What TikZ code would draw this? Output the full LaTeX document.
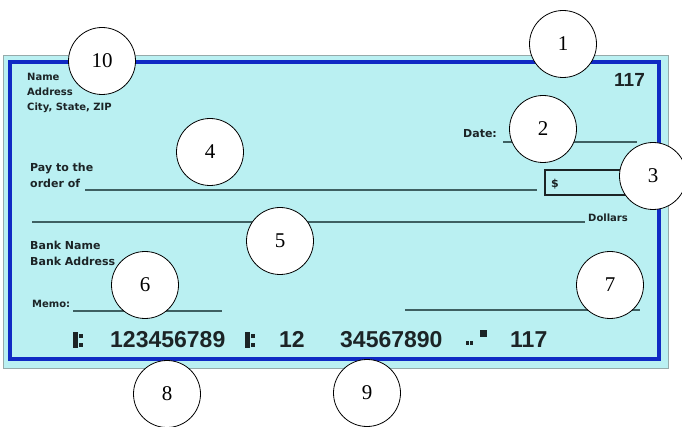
\documentclass[tikz,border=0pt]{standalone}
\usepackage{fontspec}
\setmainfont{Liberation Serif}
\newfontfamily\chkfont{DejaVu Sans}
\newfontfamily\micrfont{Liberation Sans}
\usetikzlibrary{positioning}

\definecolor{chkcyan}{RGB}{186,240,242}
\definecolor{chkblue}{RGB}{16,42,196}
\definecolor{chkedge}{RGB}{150,170,170}
\definecolor{chkline}{RGB}{62,96,98}
\definecolor{chkink}{RGB}{28,36,38}

% transit mark of the MICR line, #1 = top left corner
\NewDocumentCommand{\transitmark}{m}{%
\begin{scope}[shift={(#1)}]%
\fill[chkink] (0,0) rectangle (5,16);
\fill[chkink] (6,2) rectangle (10,6);
\fill[chkink] (6,11) rectangle (10,15);
\end{scope}%
}

% on-us mark of the MICR line
\NewDocumentCommand{\onusmark}{m}{%
\begin{scope}[shift={(#1)}]%
\fill[chkink] (0,11) rectangle (3,15);
\fill[chkink] (4,11) rectangle (7,15);
\fill[chkink] (14,0) rectangle (21,7);
\end{scope}%
}

\begin{document}
\begin{tikzpicture}[x=1pt,y=-1pt,
    label/.style={anchor=base west,inner sep=0pt,text=chkink,
      font=\chkfont\bfseries\fontsize{11}{13}\selectfont},
    smalllabel/.style={label,font=\chkfont\bfseries\fontsize{10}{12}\selectfont},
    micr/.style={anchor=base west,inner sep=0pt,text=chkink,
      font=\micrfont\bfseries\fontsize{23}{25}\selectfont},
    fieldline/.style={draw=chkline,line width=1.2pt},
    callout/.style={circle,draw=black,fill=white,line width=0.8pt,
      minimum size=67pt,inner sep=0pt,font=\fontsize{21}{21}\selectfont}]
\useasboundingbox (0,0) rectangle (682,427);

% check body
\draw[chkedge,fill=chkcyan,line width=0.8pt] (3,55) rectangle (668,368);
\draw[chkblue,line width=3.6pt] (10,62) rectangle (659,359);

% drawer
\node[smalllabel] (name) at (27,81) {Name};
\node[smalllabel] (address) at (27,96) {Address};
\node[smalllabel] (city) at (27,111) {City, State, ZIP};
\node[anchor=base west,inner sep=0pt,text=chkink,
  font=\micrfont\bfseries\fontsize{19}{19}\selectfont] (number) at (614,87) {117};

% date
\node[label] (date) at (463,138) {Date:};
\draw[fieldline] (503,142) -- (637,142);

% payee and amount
\node[label] (payto) at (30,172) {Pay to the};
\node[label] (orderof) at (30,188) {order of};
\draw[fieldline] (85,190) -- (537,190);
\draw[chkink,line width=1.2pt] (545,170) rectangle (632,195);
\node[label] (dollarsign) at (551,188) {\$};
\draw[fieldline] (32,222) -- (585,222);
\node[smalllabel] (dollars) at (588,222) {Dollars};

% bank
\node[label] (bankname) at (30,250) {Bank Name};
\node[label] (bankaddress) at (30,266) {Bank Address};

% memo and signature
\node[smalllabel] (memo) at (32,308) {Memo:};
\draw[fieldline] (73,311) -- (222,311);
\draw[fieldline] (405,310) -- (640,310);

% MICR line
\transitmark{73,332}
\node[micr] (routing) at (110,347) {123456789};
\transitmark{245,332}
\node[micr] (account) at (279,347) {12};
\node[micr] (accountb) at (340,347) {34567890};
\onusmark{466,330}
\node[micr] (checkno) at (510,347) {117};

% numbered callouts
\foreach \n/\x/\y in {1/563/44, 2/543/129, 3/653/176, 4/210/152, 5/280/241,
    6/145/285, 7/610/285, 8/167/394, 9/367/393, 10/102/61}
  \node[callout] (c\n) at (\x,\y) {\n};
\end{tikzpicture}
\end{document}
